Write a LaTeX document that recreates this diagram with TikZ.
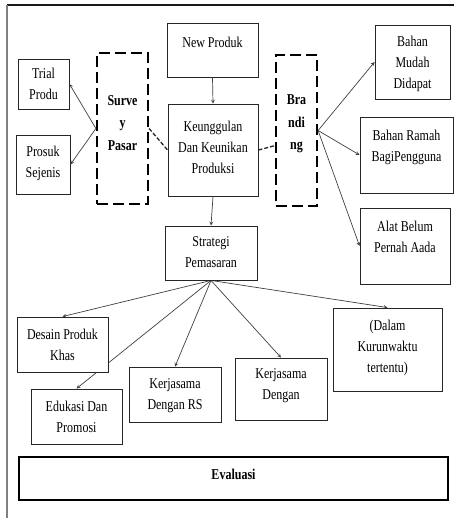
\documentclass[tikz,border=0pt]{standalone}
\usepackage{fontspec}
\setmainfont[FakeStretch=0.8]{Liberation Serif}
\usetikzlibrary{backgrounds}
\begin{document}
\begin{tikzpicture}
[x=1pt,y=-1pt,
  boxDecorate/.style={draw=black!85,line width=0.9pt,fill=white,align=center,inner sep=2pt,font=\fontsize{15}{21}\selectfont},
  dashDecorate/.style={boxDecorate,draw=black,line width=2.2pt,dash pattern=on 11pt off 5pt,font=\fontsize{15}{22.5}\selectfont\bfseries},
  thinArrow/.style={->,>=stealth,line width=0.7pt,color=black!75},
  dashLine/.style={line width=1.3pt,dash pattern=on 4pt off 2pt,color=black!85}]
\useasboundingbox (0,0) rectangle (454,518);
%% frame
\draw[line width=1.4pt,black!90] (454,5) -- (7,5);
\draw[line width=1.4pt,gray] (7,5) -- (7,518);
%% boxes
\foreach \nodename/\x/\y/\w/\h/\d/\txt in {
  newProduk/212.5/50/91/54/16/New Produk,
  keunggulan/213/150/90/92/6/Keunggulan\\Dan Keunikan\\Produksi,
  strategi/211/253/92/54/2/Strategi\\Pemasaran,
  trial/43.5/84/51/50/0/Trial\\Produ,
  prosuk/43/164.5/54/59/6/Prosuk\\Sejenis,
  bahanMudah/412.5/62/75/74/0/Bahan\\Mudah\\Didapat,
  bahanRamah/406.5/155/93/76/18/Bahan Ramah\\BagiPengguna,
  alatBelum/405/246/90/76/19/Alat Belum\\Pernah Aada,
  desain/62.5/344.5/91/55/0/Desain Produk\\Khas,
  edukasi/76.5/416.5/91/55/0/Edukasi Dan\\Promosi,
  kerjaRS/175/394.5/92/55/0/Kerjasama\\Dengan RS,
  kerjasama/281/389/92/62/9/Kerjasama\\Dengan,
  dalam/387.5/349.5/109/83/6/{(Dalam\\Kurunwaktu\\tertentu)}}
{
  \node (\nodename) at (\x,\y) [boxDecorate,text depth=\d pt,minimum width=\w pt,minimum height=\h pt] {\txt};
}
%% dashed boxes
\foreach \nodename/\x/\y/\w/\h/\d/\txt in {
  survey/122.5/128.5/51/151/11/Surve\\y\\Pasar,
  branding/296.5/130.5/41/151/16/Bra\\ndi\\ng}
{
  \node (\nodename) at (\x,\y) [dashDecorate,text depth=\d pt,minimum width=\w pt,minimum height=\h pt] {\txt};
}
\node (evaluasi) at (233.5,478.5) [boxDecorate,draw=black,line width=2.5pt,text depth=9pt,minimum width=429pt,minimum height=43pt,font=\fontsize{15}{21}\selectfont\bfseries] {Evaluasi};
%% arrows
\path
\foreach \startnode/\endnode in {newProduk/keunggulan, keunggulan/strategi}
{
  (\startnode.south) edge[thinArrow] (\endnode.north)
}
\foreach \endnode in {trial, prosuk}
{
  (survey.west) edge[thinArrow] (\endnode.east)
}
\foreach \endnode in {bahanMudah, bahanRamah, alatBelum}
{
  (branding.east) edge[thinArrow] (\endnode.west)
};
%% dashed links
\draw[dashLine] (survey.east) -- (keunggulan.west);
\draw[dashLine] (keunggulan.east) -- (branding.215);
%% fan from strategi, behind the boxes
\begin{pgfonlayer}{background}
\path
\foreach \endnode in {desain, edukasi, kerjaRS, kerjasama, dalam}
{
  (strategi.south) edge[thinArrow] (\endnode.north)
};
\end{pgfonlayer}
\end{tikzpicture}
\end{document}
